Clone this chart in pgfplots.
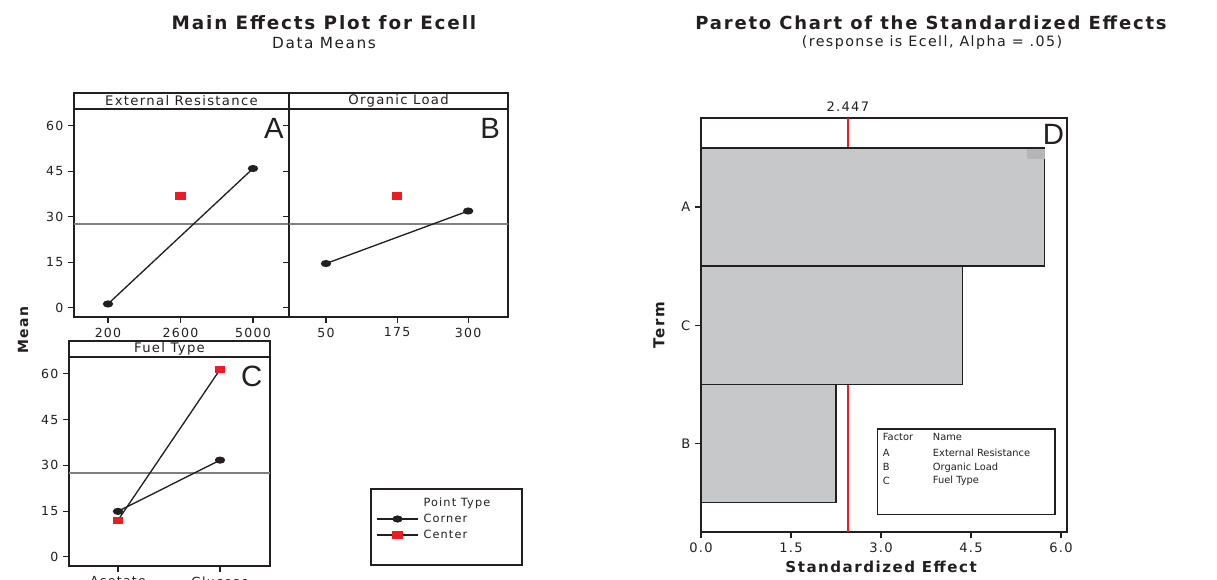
\documentclass[border=0pt]{standalone}
\usepackage{fontspec}
\setmainfont{DejaVu Sans}
\newfontfamily\spaced{DejaVu Sans}[LetterSpace=10]
\newfontfamily\bigletter{Liberation Sans}
\usepackage{pgfplots}
\pgfplotsset{compat=1.18}
\definecolor{txt}{RGB}{35,31,32}
\definecolor{mred}{RGB}{237,28,36}
\definecolor{bargray}{RGB}{199,200,202}
\definecolor{meangray}{RGB}{128,128,128}
\pgfdeclareplotmark{redsq}{%
  \pgfscope
  \pgfsetfillcolor{mred}%
  \pgfpathrectangle{\pgfqpoint{-4pt}{-2.8pt}}{\pgfqpoint{8pt}{5.6pt}}%
  \pgfusepathqfill
  \endpgfscope}
\pgfdeclareplotmark{blkell}{%
  \pgfscope
  \pgfsetfillcolor{txt}%
  \pgfpathellipse{\pgfpointorigin}{\pgfqpoint{3.9pt}{0pt}}{\pgfqpoint{0pt}{2.7pt}}%
  \pgfusepathqfill
  \endpgfscope}
\pgfplotsset{
  panel/.style={
    scale only axis, anchor=south west,
    axis line style={line width=1.4pt, txt},
    tick style={line width=0.8pt, txt},
    tick align=outside, major tick length=4.5pt,
    xtick pos=bottom, ytick pos=left,
    ymin=-3, ymax=65.5, ytick={0,15,30,45,60},
    tick label style={font=\spaced\fontsize{9.4}{10}\selectfont, text=txt},
    /pgf/number format/assume math mode=true,
  },
  corner/.style={draw=txt, color=txt, line width=1pt, mark=blkell},
  centerpt/.style={draw=txt, color=txt, line width=1pt, mark=redsq},
}
\begin{document}
\begin{tikzpicture}
\useasboundingbox (0,0) rectangle (912.75pt,-435pt);
% ---------- titles
\node[font=\spaced\bfseries\fontsize{13.8}{15}\selectfont, text=txt] at (243pt,-17.25pt) {Main Effects Plot for Ecell};
\node[font=\spaced\fontsize{11.5}{12}\selectfont, text=txt] at (243pt,-32.25pt) {Data Means};
\node[font=\spaced\bfseries\fontsize{13.5}{15}\selectfont, text=txt] at (698.25pt,-17.25pt) {Pareto Chart of the Standardized Effects};
\node[font=\spaced\fontsize{10.7}{12}\selectfont, text=txt] at (699pt,-32.25pt) {(response is Ecell, Alpha = .05)};
% ---------- strips
\draw[line width=1.4pt, txt] (55.5pt,-69.75pt) rectangle (216.75pt,-81.75pt);
\node[font=\spaced\fontsize{9.9}{10}\selectfont, text=txt] at (136.1pt,-75.75pt) {External Resistance};
\draw[line width=1.4pt, txt] (216.75pt,-69.75pt) rectangle (381pt,-81.75pt);
\node[font=\spaced\fontsize{9.9}{10}\selectfont, text=txt] at (298.9pt,-75.75pt) {Organic Load};
\draw[line width=1.4pt, txt] (51.75pt,-255.75pt) rectangle (202.5pt,-267.75pt);
\node[font=\spaced\fontsize{9.9}{10}\selectfont, text=txt] at (127.1pt,-261.75pt) {Fuel Type};
\node[font=\spaced\bfseries\fontsize{10.5}{12}\selectfont, text=txt, rotate=90] at (17.25pt,-247.5pt) {Mean};
% ---------- panel A
\begin{axis}[panel, at={(55.5pt,-237.75pt)}, width=161.25pt, height=156pt,
  xmin=-0.469, xmax=2.497, xtick={0,1,2}, xticklabels={200,2600,5000}]
\addplot[meangray, line width=1.1pt, forget plot] coordinates {(-0.469,27.7) (2.497,27.7)};
\addplot[corner] coordinates {(0,1.3) (2,45.9)};
\addplot[centerpt, only marks] coordinates {(1,36.9)};
\node[font=\bigletter\fontsize{22}{24}\selectfont, text=txt] at (rel axis cs:0.93,0.909) {A};
\end{axis}
% ---------- panel B
\begin{axis}[panel, at={(216.75pt,-237.75pt)}, width=164.25pt, height=156pt,
  xmin=-0.52, xmax=2.56, xtick={0,1,2}, xticklabels={50,175,300}, yticklabels={}]
\addplot[meangray, line width=1.1pt, forget plot] coordinates {(-0.52,27.7) (2.56,27.7)};
\addplot[corner] coordinates {(0,14.6) (2,31.9)};
\addplot[centerpt, only marks] coordinates {(1,36.9)};
\node[font=\bigletter\fontsize{22}{24}\selectfont, text=txt] at (rel axis cs:0.918,0.909) {B};
\end{axis}
% ---------- panel C
\draw[line width=1pt, txt] (278.25pt,-366.75pt) rectangle (391.5pt,-423.75pt);
\begin{axis}[panel, at={(51.75pt,-424.5pt)}, width=150.75pt, height=156.75pt,
  xmin=-0.48, xmax=1.49, xtick={0,1}, xticklabels={Acetate,Glucose},
  legend style={at={(1.527,0.34)}, anchor=north west, draw=none, fill=none,
    inner sep=0pt, font=\spaced\fontsize{8.5}{10}\selectfont, text=txt,
    nodes={inner xsep=3.5pt, inner ysep=1.3pt, text height=7.3pt, text depth=2pt}},
  legend cell align=left,
  legend image code/.code={\draw[mark repeat=2,mark phase=2,#1] plot coordinates {(0pt,0pt) (15.5pt,0pt) (31pt,0pt)};}]
\addplot[meangray, line width=1.1pt, forget plot] coordinates {(-0.48,27.5) (1.49,27.5)};
\addlegendimage{empty legend}\addlegendentry{Point Type}
\addplot[corner] coordinates {(0,14.9) (1,31.7)};
\addlegendentry{Corner}
\addplot[centerpt] coordinates {(0,12.0) (1,61.4)};
\addlegendentry{Center}
\node[font=\bigletter\fontsize{22}{24}\selectfont, text=txt] at (rel axis cs:0.909,0.906) {C};
\end{axis}
% ---------- Pareto
\begin{axis}[scale only axis, anchor=south west, at={(525.75pt,-399.2pt)},
  width=274.5pt, height=310.5pt, clip mode=individual,
  xmin=0, xmax=6.1, ymin=0.25, ymax=3.75,
  axis line style={line width=1.4pt, txt},
  tick style={line width=0.8pt, txt},
  tick align=outside, major tick length=4.5pt,
  xtick pos=bottom, ytick pos=left,
  ytick={1,2,3}, yticklabels={B,C,A},
  xtick={0,1.5,3,4.5,6},
  xticklabel style={/pgf/number format/.cd, fixed, fixed zerofill, precision=1},
  tick label style={font=\spaced\fontsize{9.8}{11}\selectfont, text=txt},
  /pgf/number format/assume math mode=true,
  xlabel={Standardized Effect}, ylabel={Term},
  label style={font=\spaced\bfseries\fontsize{11.3}{12}\selectfont, text=txt},
  xlabel style={at={(axis description cs:0.492,-0.084)}, anchor=center},
  ylabel style={at={(axis description cs:-0.115,0.5)}, anchor=center},
  ]
\addplot[draw=mred, color=mred, line width=1.3pt] coordinates {(2.447,0.25) (2.447,3.75)};
\addplot[xbar, bar width=1, fill=bargray, draw=txt, line width=1pt] coordinates {(2.25,1) (4.36,2) (5.73,3)};
\node[font=\spaced\fontsize{9.8}{11}\selectfont, text=txt, anchor=base] at (axis cs:2.447,3.75) [yshift=5pt] {2.447};
\node[font=\bigletter\fontsize{22}{24}\selectfont, text=txt] at (rel axis cs:0.963,0.96) {D};
\end{axis}
\fill[fill={rgb,255:red,180;green,181;blue,183}] (770pt,-111.75pt) rectangle (783.75pt,-119.25pt);
% Pareto legend box
\draw[line width=1pt, txt] (658pt,-321.75pt) rectangle (791.25pt,-385.7pt);
\begin{scope}[every node/.style={font=\fontsize{7.4}{8}\selectfont, text=txt, anchor=west, inner sep=0pt}]
\node at (662pt,-328pt) {Factor};
\node at (699.5pt,-328pt) {Name};
\node at (662pt,-339.5pt) {A};
\node at (699.5pt,-339.5pt) {External Resistance};
\node at (662pt,-350.5pt) {B};
\node at (699.5pt,-350.5pt) {Organic Load};
\node at (662pt,-360.5pt) {C};
\node at (699.5pt,-360.5pt) {Fuel Type};
\end{scope}
\end{tikzpicture}
\end{document}
